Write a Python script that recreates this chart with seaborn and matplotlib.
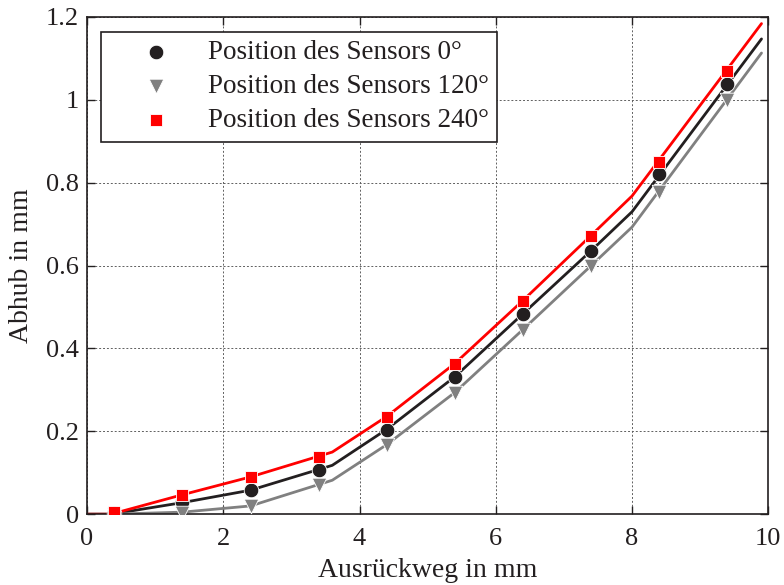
import numpy as np
import pandas as pd
import matplotlib
matplotlib.use("Agg")
import matplotlib.pyplot as plt
import seaborn as sns

# Measured points
x_meas = [0.4, 1.4, 2.4, 3.4, 4.4, 5.4, 6.4, 7.4, 8.4, 9.4]
y_0 = [0.003, 0.029, 0.058, 0.107, 0.204, 0.331, 0.483, 0.636, 0.821, 1.039]
y_120 = [0.0, 0.004, 0.020, 0.070, 0.167, 0.292, 0.444, 0.599, 0.778, 1.000]
y_240 = [0.005, 0.046, 0.089, 0.138, 0.234, 0.362, 0.514, 0.671, 0.851, 1.070]

# Fitted curves
x_fit = [0, 0.35, 1.4, 2.4, 3.6, 4.4, 5.4, 6.4, 7.4, 8.0, 9.9]
fit_0 = [0, 0, 0.028, 0.058, 0.118, 0.205, 0.332, 0.484, 0.636, 0.730, 1.147]
fit_120 = [0, 0, 0.005, 0.020, 0.082, 0.168, 0.294, 0.446, 0.600, 0.693, 1.113]
fit_240 = [0, 0, 0.047, 0.090, 0.150, 0.236, 0.364, 0.516, 0.673, 0.768, 1.184]

labels = ["Position des Sensors 0°", "Position des Sensors 120°", "Position des Sensors 240°"]
colors = ["#231f20", "#808080", "#ff0000"]
markers = ["o", "v", "s"]
x_ticks = [0, 2, 4, 6, 8, 10]
y_ticks = [0, 0.2, 0.4, 0.6, 0.8, 1.0, 1.2]
y_tick_labels = ["0", "0.2", "0.4", "0.6", "0.8", "1", "1.2"]

sns.set_theme(style="white")
plt.rcParams["font.family"] = ["Liberation Serif", "DejaVu Serif"]

fig = plt.figure(figsize=(7.84, 5.85), dpi=100)
ax = fig.add_axes([0.111, 0.121, 0.869, 0.850])

fits = [fit_0, fit_120, fit_240]
meas = [y_0, y_120, y_240]
for i in range(3):
    df_fit = pd.DataFrame({"x": x_fit, "y": fits[i]})
    sns.lineplot(data=df_fit, x="x", y="y", ax=ax, color=colors[i], linewidth=2,
                 sort=False, legend=False, zorder=2)
for i in range(3):
    df_m = pd.DataFrame({"x": x_meas, "y": meas[i]})
    ms = 110 if markers[i] != "s" else 85
    sns.scatterplot(data=df_m, x="x", y="y", ax=ax, color=colors[i], marker=markers[i],
                    s=ms, edgecolor="white", linewidth=0.6, label=labels[i], zorder=3)

ax.set_xlim(0, 10)
ax.set_ylim(0, 1.2)
ax.set_xticks(x_ticks)
ax.set_xticklabels([str(t) for t in x_ticks])
ax.set_yticks(y_ticks)
ax.set_yticklabels(y_tick_labels)
ax.grid(True, linestyle=(0, (2, 2)), color="#606060", linewidth=0.7)
ax.tick_params(axis="both", direction="in", length=6, width=1, labelsize=19,
               top=True, right=True, bottom=True, left=True, colors="#231f20")
ax.tick_params(axis="x", pad=10)
ax.tick_params(axis="y", pad=6)
for sp in ax.spines.values():
    sp.set_color("#231f20")
    sp.set_linewidth(1.2)
ax.set_xlabel("Ausrückweg in mm", fontsize=20, labelpad=6, color="#231f20")
ax.set_ylabel("Abhub in mm", fontsize=20, labelpad=8, color="#231f20")

leg = ax.legend(loc="upper left", bbox_to_anchor=(0.020, 0.970), fontsize=19.5,
                frameon=True, fancybox=False, edgecolor="#231f20", framealpha=1,
                borderpad=0.3, labelspacing=0.34, handletextpad=0.15, borderaxespad=0,
                markerscale=1.0, handlelength=3.5)
leg.get_frame().set_linewidth(1.2)
for t in leg.get_texts():
    t.set_color("#231f20")

fig.savefig("out.png", dpi=100)
